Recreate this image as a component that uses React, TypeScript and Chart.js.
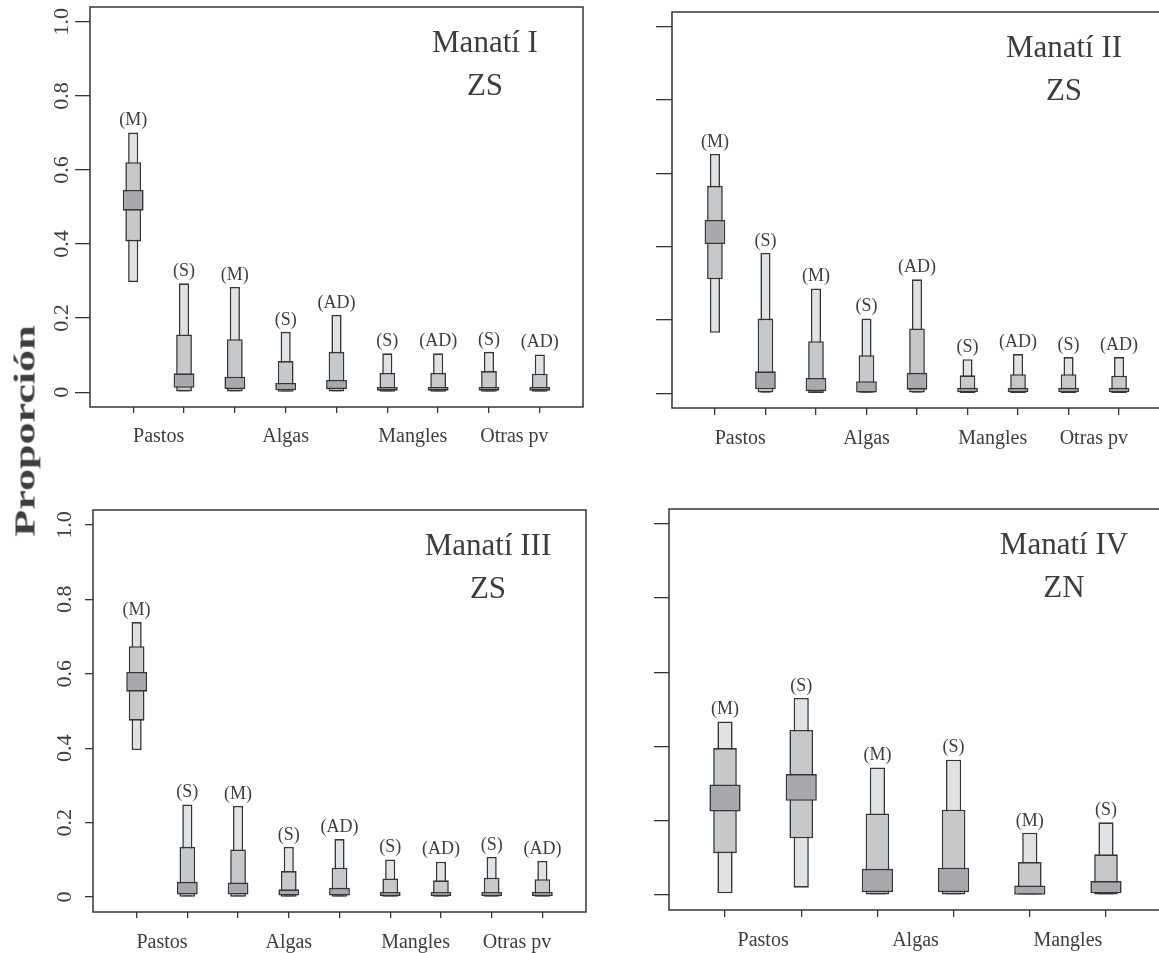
import React, { useEffect, useRef } from 'react';
import { Chart, registerables } from 'chart.js';

Chart.register(...registerables);

const SERIF = '"Liberation Serif", "Times New Roman", serif';
const INK = '#3d3d3d';
const EDGE = '#363636';
const FILL_95 = '#e1e2e4';
const FILL_75 = '#c7c8ca';
const FILL_50 = '#a8a9ac';

// Shared axis content
const yTickValues = [0, 0.2, 0.4, 0.6, 0.8, 1.0];
const yTickText = ['0', '0.2', '0.4', '0.6', '0.8', '1.0'];
const groupNames9 = ['Pastos', 'Algas', 'Mangles', 'Otras pv'];
const groupCenters9 = [1.5, 4, 6.5, 8.5];
const groupNames6 = ['Pastos', 'Algas', 'Mangles'];
const groupCenters6 = [1.5, 3.5, 5.5];
const sexTags9 = ['(M)', '(S)', '(M)', '(S)', '(AD)', '(S)', '(AD)', '(S)', '(AD)'];
const sexTags6 = ['(M)', '(S)', '(M)', '(S)', '(M)', '(S)'];

// Manatí I — ZS
const m1Lo95 = [0.297, 0.0, 0.0, 0.0, 0.0, 0.0, 0.0, 0.0, 0.0];
const m1Hi95 = [0.701, 0.294, 0.284, 0.163, 0.209, 0.105, 0.105, 0.109, 0.102];
const m1Lo75 = [0.407, 0.002, 0.002, 0.001, 0.002, 0.001, 0.001, 0.001, 0.001];
const m1Hi75 = [0.621, 0.156, 0.143, 0.084, 0.109, 0.052, 0.052, 0.057, 0.05];
const m1Lo50 = [0.49, 0.012, 0.008, 0.005, 0.008, 0.004, 0.004, 0.004, 0.004];
const m1Hi50 = [0.546, 0.051, 0.042, 0.025, 0.033, 0.014, 0.014, 0.014, 0.014];

// Manatí II — ZS
const m2Lo95 = [0.165, 0.0, 0.0, 0.0, 0.0, 0.0, 0.0, 0.0, 0.0];
const m2Hi95 = [0.653, 0.383, 0.286, 0.204, 0.311, 0.093, 0.107, 0.099, 0.099];
const m2Lo75 = [0.311, 0.002, 0.001, 0.0, 0.002, 0.001, 0.001, 0.001, 0.001];
const m2Hi75 = [0.566, 0.204, 0.142, 0.104, 0.177, 0.049, 0.052, 0.052, 0.048];
const m2Lo50 = [0.407, 0.011, 0.006, 0.002, 0.01, 0.003, 0.003, 0.003, 0.003];
const m2Hi50 = [0.473, 0.06, 0.042, 0.033, 0.056, 0.015, 0.015, 0.015, 0.015];

// Manatí III — ZS
const m3Lo95 = [0.395, 0.0, 0.0, 0.0, 0.0, 0.0, 0.0, 0.0, 0.0];
const m3Hi95 = [0.739, 0.249, 0.245, 0.135, 0.156, 0.101, 0.095, 0.108, 0.097];
const m3Lo75 = [0.474, 0.001, 0.001, 0.001, 0.001, 0.001, 0.001, 0.001, 0.001];
const m3Hi75 = [0.674, 0.135, 0.128, 0.07, 0.079, 0.05, 0.045, 0.052, 0.048];
const m3Lo50 = [0.552, 0.007, 0.007, 0.004, 0.004, 0.003, 0.003, 0.003, 0.003];
const m3Hi50 = [0.605, 0.041, 0.039, 0.021, 0.025, 0.014, 0.014, 0.014, 0.014];

// Manatí IV — ZN
const m4Lo95 = [0.005, 0.02, 0.0, 0.0, 0.0, 0.0];
const m4Hi95 = [0.468, 0.531, 0.344, 0.365, 0.168, 0.196];
const m4Lo75 = [0.113, 0.153, 0.002, 0.002, 0.0, 0.002];
const m4Hi75 = [0.396, 0.445, 0.22, 0.23, 0.089, 0.11];
const m4Lo50 = [0.225, 0.254, 0.008, 0.008, 0.001, 0.005];
const m4Hi50 = [0.298, 0.326, 0.071, 0.074, 0.026, 0.038];

type PanelSpec = {
  title: string[];
  tags: string[];
  groups: string[];
  groupAt: number[];
  lo95: number[]; hi95: number[];
  lo75: number[]; hi75: number[];
  lo50: number[]; hi50: number[];
  showYLabels: boolean;
  // canvas placement and plot box geometry (px)
  left: number; top: number; width: number; height: number;
  boxLeft: number; boxTop: number; boxRight: number; boxBottom: number;
  xPad: number; yTick: number; xTick: number; yLabelPad: number; groupGap: number;
};

const panels: PanelSpec[] = [
  {
    title: ['Manatí I', 'ZS'], tags: sexTags9, groups: groupNames9, groupAt: groupCenters9,
    lo95: m1Lo95, hi95: m1Hi95, lo75: m1Lo75, hi75: m1Hi75, lo50: m1Lo50, hi50: m1Hi50,
    showYLabels: true,
    left: 0, top: 0, width: 590, height: 470,
    boxLeft: 90, boxTop: 7, boxRight: 583, boxBottom: 407,
    xPad: 0.85, yTick: 15, xTick: 6, yLabelPad: -1, groupGap: 30,
  },
  {
    title: ['Manatí II', 'ZS'], tags: sexTags9, groups: groupNames9, groupAt: groupCenters9,
    lo95: m2Lo95, hi95: m2Hi95, lo75: m2Lo75, hi75: m2Hi75, lo50: m2Lo50, hi50: m2Hi50,
    showYLabels: false,
    left: 590, top: 0, width: 580, height: 470,
    boxLeft: 82, boxTop: 12, boxRight: 572, boxBottom: 408,
    xPad: 0.85, yTick: 16, xTick: 7, yLabelPad: 0, groupGap: 31,
  },
  {
    title: ['Manatí III', 'ZS'], tags: sexTags9, groups: groupNames9, groupAt: groupCenters9,
    lo95: m3Lo95, hi95: m3Hi95, lo75: m3Lo75, hi75: m3Hi75, lo50: m3Lo50, hi50: m3Hi50,
    showYLabels: true,
    left: 0, top: 475, width: 590, height: 478,
    boxLeft: 93, boxTop: 35, boxRight: 586, boxBottom: 437,
    xPad: 0.86, yTick: 8, xTick: 6, yLabelPad: 6, groupGap: 31,
  },
  {
    title: ['Manatí IV', 'ZN'], tags: sexTags6, groups: groupNames6, groupAt: groupCenters6,
    lo95: m4Lo95, hi95: m4Hi95, lo75: m4Lo75, hi75: m4Hi75, lo50: m4Lo50, hi50: m4Hi50,
    showYLabels: false,
    left: 590, top: 475, width: 580, height: 478,
    boxLeft: 79, boxTop: 34, boxRight: 572, boxBottom: 435,
    xPad: 0.735, yTick: 15, xTick: 7, yLabelPad: 0, groupGap: 31,
  },
];

function PanelChart({ spec }: { spec: PanelSpec }) {
  const ref = useRef<HTMLCanvasElement>(null);

  useEffect(() => {
    if (!ref.current) return;
    const positions = spec.hi95.map((_, i) => i + 1);
    const n = positions.length;

    const band = (lo: number[], hi: number[], fill: string, pct: number, order: number) => ({
      type: 'bar' as const,
      data: positions.map((x, i) => ({ x, y: [lo[i], hi[i]] })),
      backgroundColor: fill,
      borderColor: EDGE,
      borderWidth: 1.6,
      borderSkipped: false,
      grouped: false,
      categoryPercentage: 1,
      barPercentage: pct,
      order,
    });

    const decor = {
      id: 'decor',
      afterDatasetsDraw(chart: any) {
        const { ctx, chartArea: a, scales } = chart;
        const xs = scales.x;
        const ys = scales.y;
        ctx.save();
        ctx.strokeStyle = EDGE;
        ctx.lineWidth = 1.5;
        ctx.strokeRect(a.left, a.top, a.right - a.left, a.bottom - a.top);

        ctx.fillStyle = INK;
        ctx.textAlign = 'center';
        ctx.textBaseline = 'middle';

        ctx.font = `18px ${SERIF}`;
        spec.tags.forEach((t, i) => {
          ctx.fillText(t, xs.getPixelForValue(i + 1), ys.getPixelForValue(spec.hi95[i]) - 12);
        });

        ctx.font = `20px ${SERIF}`;
        spec.groups.forEach((g, k) => {
          ctx.fillText(g, xs.getPixelForValue(spec.groupAt[k]), a.bottom + spec.groupGap);
        });

        ctx.font = `31px ${SERIF}`;
        ctx.fillText(spec.title[0], a.right - 98, a.top + 37);
        ctx.fillText(spec.title[1], a.right - 98, a.top + 80);
        ctx.restore();
      },
    };

    const chart = new Chart(ref.current, {
      type: 'bar',
      data: {
        datasets: [
          band(spec.lo50, spec.hi50, FILL_50, 0.41, 0),
          band(spec.lo75, spec.hi75, FILL_75, 0.31, 1),
          band(spec.lo95, spec.hi95, FILL_95, 0.2, 2),
        ] as any,
      },
      options: {
        animation: false,
        responsive: false,
        devicePixelRatio: 1,
        layout: {
          padding: {
            left: 0,
            top: spec.boxTop,
            right: spec.width - spec.boxRight,
            bottom: 0,
          },
        },
        plugins: {
          legend: { display: false },
          tooltip: { enabled: false },
        },
        scales: {
          x: {
            type: 'linear',
            min: 1 - spec.xPad,
            max: n + spec.xPad,
            offset: false,
            afterBuildTicks: (s: any) => {
              s.ticks = positions.map((v) => ({ value: v }));
            },
            afterFit: (s: any) => {
              s.height = spec.height - spec.boxBottom;
              s.paddingLeft = 0;
              s.paddingRight = 0;
            },
            ticks: { display: false },
            grid: {
              offset: false,
              drawOnChartArea: false,
              drawTicks: true,
              tickLength: spec.xTick,
              color: EDGE,
              lineWidth: 1.3,
            },
            border: { display: false },
          },
          y: {
            type: 'linear',
            min: -0.04,
            max: 1.04,
            afterBuildTicks: (s: any) => {
              s.ticks = yTickValues.map((v) => ({ value: v }));
            },
            afterFit: (s: any) => {
              s.width = spec.boxLeft;
              s.paddingTop = 0;
              s.paddingBottom = 0;
            },
            ticks: {
              display: spec.showYLabels,
              autoSkip: false,
              minRotation: 90,
              maxRotation: 90,
              crossAlign: 'center',
              padding: spec.yLabelPad,
              color: INK,
              font: { family: SERIF, size: 22 },
              callback: (_v: any, i: number) => yTickText[i],
            },
            grid: {
              drawOnChartArea: false,
              drawTicks: true,
              tickLength: spec.yTick,
              color: EDGE,
              lineWidth: 1.3,
            },
            border: { display: false },
          },
        },
      } as any,
      plugins: [decor],
    });

    return () => chart.destroy();
  }, [spec]);

  return (
    <canvas
      ref={ref}
      width={spec.width}
      height={spec.height}
      style={{
        position: 'absolute',
        left: spec.left,
        top: spec.top,
        width: spec.width,
        height: spec.height,
      }}
    />
  );
}

export default function App() {
  return (
    <div
      style={{
        position: 'absolute',
        left: 0,
        top: 0,
        width: 1159,
        height: 953,
        overflow: 'hidden',
        background: '#ffffff',
      }}
    >
      {panels.map((p, i) => (
        <PanelChart key={i} spec={p} />
      ))}
      <div
        style={{
          position: 'absolute',
          left: 25,
          top: 431,
          transform: 'translate(-50%, -50%) rotate(-90deg) scaleX(1.52)',
          font: `bold 29px ${SERIF}`,
          color: INK,
          whiteSpace: 'nowrap',
          lineHeight: 1,
        }}
      >
        Proporción
      </div>
    </div>
  );
}
